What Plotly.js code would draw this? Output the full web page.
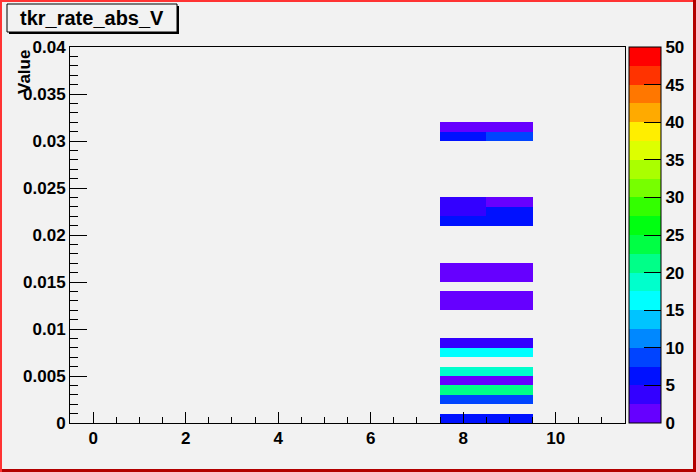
<!DOCTYPE html>
<html>
<head>
<meta charset="utf-8">
<script src="https://cdn.plot.ly/plotly-3.0.1.min.js"></script>
<style>html,body{margin:0;padding:0;background:#F2F2F2;}#plot{width:696px;height:472px;}</style>
</head>
<body>
<div id="plot"></div>
<script>
// ---- data (non-empty bins of the 2D histogram) ----
var title = "tkr_rate_abs_V";
var yTitle = "Value";
var xBinCenters = [0, 1, 2, 3, 4, 5, 6, 7, 8, 9, 10, 11];
var yBinLowEdges = [0.000, 0.002, 0.003, 0.004, 0.005, 0.007, 0.008, 0.012, 0.013, 0.015, 0.016, 0.021, 0.022, 0.023, 0.030, 0.031];
var countsX8 = [6, 9, 21, 1, 19, 16, 4, 1, 1, 1, 1, 6, 4, 4, 6, 1];
var countsX9 = [6, 9, 21, 1, 19, 16, 4, 1, 1, 1, 1, 6, 6, 1, 9, 1];
var yBinWidth = 0.001;
var nYBins = 40;
var paletteColors = ["#6600FF","#3300FF","#0011FF","#0044FF","#0088FF","#00C4FF","#00FFFF","#00FFCC","#00FF88","#00FF44",
                     "#00FF11","#33FF00","#77FF00","#AAFF00","#DDFF00","#FFEE00","#FFAA00","#FF7700","#FF3300","#FF0000"];
var colorbarTicks = [0, 5, 10, 15, 20, 25, 30, 35, 40, 45, 50];

// ---- build heatmap matrix ----
var yCenters = [];
var z = [];
for (var i = 0; i < nYBins; i++) {
  yCenters.push((i + 0.5) * yBinWidth);
  var row = [];
  for (var j = 0; j < xBinCenters.length; j++) row.push(null);
  z.push(row);
}
for (var k = 0; k < yBinLowEdges.length; k++) {
  var iy = Math.round(yBinLowEdges[k] / yBinWidth);
  z[iy][xBinCenters.indexOf(8)] = countsX8[k];
  z[iy][xBinCenters.indexOf(9)] = countsX9[k];
}
var cs = [];
for (var c = 0; c < paletteColors.length; c++) {
  cs.push([c / paletteColors.length, paletteColors[c]]);
  cs.push([(c + 1) / paletteColors.length, paletteColors[c]]);
}

// ---- geometry helpers (pixels -> paper) ----
var L = 70, R = 625, T = 47, B = 423, W = 696, H = 472;
function px(x) { return (x - L) / (R - L); }
function py(y) { return (B - y) / (B - T); }

var font = {family: "Liberation Sans, Arial, sans-serif", size: 17, color: "#000", weight: "bold"};

var trace = {
  type: "heatmap",
  x: xBinCenters,
  y: yCenters,
  z: z,
  zmin: 0, zmax: 50,
  colorscale: cs,
  hoverongaps: false,
  colorbar: {
    xref: "container", x: 629 / W, xanchor: "left", xpad: 0,
    yref: "paper", y: 0.5, yanchor: "middle", ypad: 0,
    len: 1, lenmode: "fraction",
    thickness: 32, thicknessmode: "pixels",
    outlinewidth: 1, outlinecolor: "#000",
    tickmode: "array", tickvals: colorbarTicks,
    ticks: "inside", ticklen: 17, tickcolor: "#000",
    tickfont: font
  }
};

var shapes = [
  // canvas bevel frame
  {type: "rect", xref: "paper", yref: "paper", x0: px(0), x1: px(2), y0: py(H), y1: py(0), fillcolor: "#FF3333", line: {width: 0}},
  {type: "rect", xref: "paper", yref: "paper", x0: px(0), x1: px(W), y0: py(2), y1: py(0), fillcolor: "#FF3333", line: {width: 0}},
  {type: "rect", xref: "paper", yref: "paper", x0: px(693), x1: px(W), y0: py(H), y1: py(0), fillcolor: "#B30000", line: {width: 0}},
  {type: "rect", xref: "paper", yref: "paper", x0: px(2), x1: px(W), y0: py(H), y1: py(469), fillcolor: "#B30000", line: {width: 0}},
  // title box with shadow
  {type: "rect", xref: "paper", yref: "paper", x0: px(9), x1: px(179), y0: py(34), y1: py(6), fillcolor: "#000", line: {width: 0}},
  {type: "rect", xref: "paper", yref: "paper", x0: px(7), x1: px(177), y0: py(32), y1: py(4), fillcolor: "#F2F2F2", line: {color: "#000", width: 1}}
];

var layout = {
  width: W, height: H,
  margin: {l: L, r: W - R, t: T, b: H - B, pad: 0},
  paper_bgcolor: "#F2F2F2",
  plot_bgcolor: "#F2F2F2",
  showlegend: false,
  xaxis: {
    range: [-0.5, 11.5], showgrid: false, zeroline: false, automargin: false,
    showline: true, mirror: true, linecolor: "#000", linewidth: 1,
    ticks: "inside", ticklen: 11, tickcolor: "#000", dtick: 2, tick0: 0,
    minor: {dtick: 0.5, ticks: "inside", ticklen: 6, tickcolor: "#000", showgrid: false},
    tickfont: font
  },
  yaxis: {
    range: [0, 0.04], showgrid: false, zeroline: false, automargin: false,
    showline: true, mirror: true, linecolor: "#000", linewidth: 1,
    ticks: "inside", ticklen: 17, tickcolor: "#000", dtick: 0.005, tick0: 0,
    minor: {dtick: 0.001, ticks: "inside", ticklen: 8, tickcolor: "#000", showgrid: false},
    tickfont: font
  },
  shapes: shapes,
  annotations: [
    {text: title, xref: "paper", yref: "paper", x: px(92), y: py(18), xanchor: "center", yanchor: "middle",
     showarrow: false, font: {family: "Liberation Sans, Arial, sans-serif", size: 20, color: "#000", weight: "bold"}},
    {text: yTitle, xref: "paper", yref: "paper", x: px(24), y: py(72), xanchor: "center", yanchor: "middle",
     textangle: -90, showarrow: false, font: {family: "Liberation Sans, Arial, sans-serif", size: 17, color: "#000", weight: "bold"}}
  ]
};

Plotly.newPlot("plot", [trace], layout, {displayModeBar: false, staticPlot: true});
</script>
</body>
</html>
